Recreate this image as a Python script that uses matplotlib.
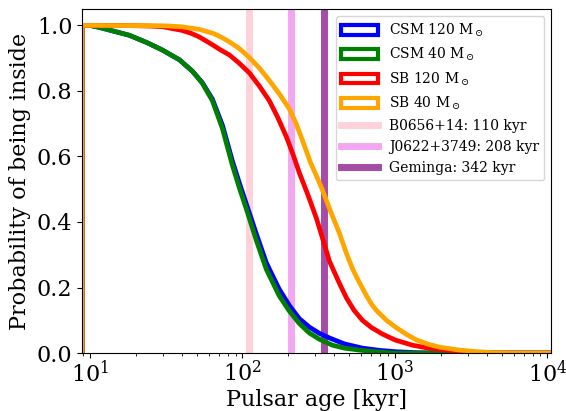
import matplotlib.pyplot as plt
from matplotlib.patches import Patch

plt.rcParams['font.family'] = ['DejaVu Serif']
plt.rcParams['mathtext.fontset'] = 'dejavuserif'

x_min, x_max = 8.87, 10600

# curves (age in kyr, probability)
csm120_age = [8.87, 8.87, 10, 11.5, 18.1, 23.5, 29.8, 38.6, 47, 54.6, 63.5, 73.9, 86, 96, 106, 123, 143.5,
              174, 203, 236, 275, 320, 372, 466, 612, 800, 1023, 1400, 2000, 10600]
csm120_p = [0, 1.0, 1.0, 0.994, 0.97, 0.948, 0.925, 0.895, 0.86, 0.825, 0.775, 0.695, 0.585, 0.515, 0.455,
            0.365, 0.275, 0.195, 0.145, 0.105, 0.079, 0.06, 0.046, 0.028, 0.015, 0.008, 0.004, 0.001, 0.0, 0.0]

csm40_age = [8.87, 8.87, 10, 11.5, 18.1, 23.5, 29.8, 38.6, 47, 54.6, 63.5, 73.9, 86, 96, 106, 123, 143.5,
             174, 203, 236, 275, 320, 389, 466, 585, 750, 1000, 10600]
csm40_p = [0, 1.0, 1.0, 0.994, 0.97, 0.948, 0.925, 0.895, 0.86, 0.823, 0.77, 0.685, 0.572, 0.50, 0.44,
           0.345, 0.255, 0.175, 0.128, 0.09, 0.061, 0.042, 0.024, 0.015, 0.009, 0.004, 0.0, 0.0]

sb120_age = [8.87, 8.87, 10, 15, 20, 25, 30, 35, 40, 46, 52, 58, 64, 72, 82, 95, 111, 129, 150, 170, 194,
             215, 236, 270, 306, 335, 372, 430, 481, 540, 612, 700, 828, 1000, 1302, 1700, 2176, 3000, 4000,
             10600]
sb120_p = [0, 1.0, 1.0, 1.0, 0.999, 0.998, 0.996, 0.99, 0.985, 0.976, 0.965, 0.952, 0.94, 0.925, 0.91,
           0.885, 0.855, 0.815, 0.77, 0.72, 0.66, 0.605, 0.55, 0.48, 0.41, 0.35, 0.28, 0.215, 0.168, 0.13,
           0.10, 0.078, 0.058, 0.04, 0.024, 0.014, 0.009, 0.003, 0.0, 0.0]

sb40_age = [8.87, 8.87, 10, 30, 40, 52, 64, 72, 82, 95, 111, 129, 150, 175, 203, 225, 247, 280, 306, 335,
            380, 432, 480, 526, 570, 612, 650, 700, 756, 880, 1023, 1200, 1383, 1650, 1957, 2650, 3500, 4600,
            6000, 10600]
sb40_p = [0, 1.0, 1.0, 0.999, 0.996, 0.988, 0.976, 0.965, 0.95, 0.93, 0.902, 0.87, 0.832, 0.79, 0.745,
          0.70, 0.65, 0.58, 0.54, 0.497, 0.43, 0.366, 0.305, 0.258, 0.225, 0.198, 0.175, 0.15, 0.13, 0.10,
          0.077, 0.056, 0.040, 0.027, 0.018, 0.009, 0.004, 0.001, 0.0, 0.0]

curves = [
    (csm120_age, csm120_p, 'blue', r'CSM 120 M$_\odot$'),
    (csm40_age, csm40_p, 'green', r'CSM 40 M$_\odot$'),
    (sb120_age, sb120_p, 'red', r'SB 120 M$_\odot$'),
    (sb40_age, sb40_p, 'orange', r'SB 40 M$_\odot$'),
]

pulsar_names = ['B0656+14', 'J0622+3749', 'Geminga']
pulsar_ages = [110, 208, 342]
pulsar_colors = ['pink', 'violet', 'purple']

fig = plt.figure(figsize=(5.66, 4.11), dpi=100)
ax = fig.add_axes([0.145, 0.141, 0.829, 0.837])

handles = []
for age, p, c, lab in curves:
    ax.plot(age, p, color=c, lw=3.4, solid_joinstyle='round')
    handles.append(Patch(facecolor='white', edgecolor=c, lw=3, label=lab))

for name, a, c in zip(pulsar_names, pulsar_ages, pulsar_colors):
    h = ax.axvline(a, color=c, alpha=0.7, lw=5, zorder=1,
                   label=f'{name}: {a} kyr')
    handles.append(h)

ax.set_xscale('log')
ax.set_xlim(x_min, x_max)
ax.set_ylim(0, 1.05)
ax.set_yticks([0, 0.2, 0.4, 0.6, 0.8, 1.0])
ax.tick_params(labelsize=16)
ax.tick_params(axis='x', pad=2)
ax.set_xlabel('Pulsar age [kyr]', fontsize=16, labelpad=1)
ax.set_ylabel('Probability of being inside', fontsize=16)
ax.legend(handles=handles, loc='upper right', fontsize=10, handlelength=2.6)

plt.savefig('out.png', dpi=100)
